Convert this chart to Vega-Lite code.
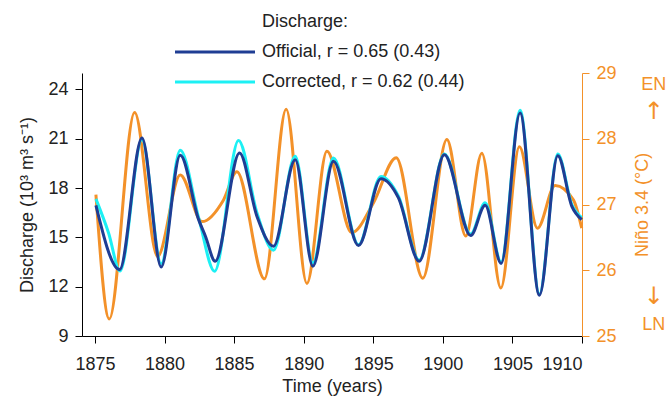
{
  "$schema": "https://vega.github.io/schema/vega-lite/v6.json",
  "width": 500,
  "height": 263,
  "autosize": {"type": "none"},
  "padding": {"left": 82, "top": 73, "right": 87, "bottom": 61},
  "background": "white",
  "config": {
    "view": {"stroke": null},
    "font": "Liberation Sans",
    "axis": {
      "grid": false,
      "labelFont": "Liberation Sans",
      "titleFont": "Liberation Sans",
      "labelFontSize": 18,
      "titleFontSize": 18,
      "titleFontWeight": "normal",
      "labelColor": "#222222",
      "titleColor": "#222222",
      "domainColor": "#000000",
      "tickColor": "#000000",
      "tickSize": 7,
      "labelPadding": 7
    },
    "legend": {
      "labelFont": "Liberation Sans",
      "labelFontSize": 18,
      "labelColor": "#222222",
      "labelLimit": 0
    }
  },
  "title": {
    "text": "Discharge:",
    "anchor": "start",
    "frame": "group",
    "dx": 180,
    "offset": 12,
    "fontSize": 18,
    "fontWeight": "normal",
    "font": "Liberation Sans",
    "color": "#222222"
  },
  "datasets": {
    "nino": [
      {"year": 1875.07, "nino": 27.15},
      {"year": 1876.03, "nino": 25.26},
      {"year": 1877.85, "nino": 28.40},
      {"year": 1879.5, "nino": 26.21},
      {"year": 1881.13, "nino": 27.45},
      {"year": 1882.7, "nino": 26.74},
      {"year": 1884.24, "nino": 27.07},
      {"year": 1885.2, "nino": 27.50},
      {"year": 1887.18, "nino": 25.87},
      {"year": 1888.74, "nino": 28.45},
      {"year": 1890.23, "nino": 25.80},
      {"year": 1891.67, "nino": 27.81},
      {"year": 1893.46, "nino": 26.57},
      {"year": 1895.0, "nino": 27.02},
      {"year": 1896.65, "nino": 27.71},
      {"year": 1898.56, "nino": 25.88},
      {"year": 1900.29, "nino": 27.99},
      {"year": 1901.65, "nino": 26.52},
      {"year": 1902.8, "nino": 27.78},
      {"year": 1904.17, "nino": 25.73},
      {"year": 1905.5, "nino": 27.88},
      {"year": 1906.8, "nino": 26.64},
      {"year": 1908.07, "nino": 27.29},
      {"year": 1909.38, "nino": 27.07},
      {"year": 1909.98, "nino": 26.64}
    ],
    "labels": [
      {"label": "EN", "nino": 28.82},
      {"label": "LN", "nino": 25.17}
    ],
    "arrows": [
      {"label": "↑", "nino": 28.41},
      {"label": "↓", "nino": 25.59}
    ],
    "discharge": [
      {"series": "Official, r = 0.65 (0.43)", "year": 1875.07, "q": 16.95},
      {"series": "Official, r = 0.65 (0.43)", "year": 1876.77, "q": 13.04},
      {"series": "Official, r = 0.65 (0.43)", "year": 1878.38, "q": 21.05},
      {"series": "Official, r = 0.65 (0.43)", "year": 1879.76, "q": 13.20},
      {"series": "Official, r = 0.65 (0.43)", "year": 1881.13, "q": 19.99},
      {"series": "Official, r = 0.65 (0.43)", "year": 1882.45, "q": 16.08},
      {"series": "Official, r = 0.65 (0.43)", "year": 1882.94, "q": 15.07},
      {"series": "Official, r = 0.65 (0.43)", "year": 1883.64, "q": 13.55},
      {"series": "Official, r = 0.65 (0.43)", "year": 1885.39, "q": 20.14},
      {"series": "Official, r = 0.65 (0.43)", "year": 1886.64, "q": 16.28},
      {"series": "Official, r = 0.65 (0.43)", "year": 1887.83, "q": 14.46},
      {"series": "Official, r = 0.65 (0.43)", "year": 1889.39, "q": 19.73},
      {"series": "Official, r = 0.65 (0.43)", "year": 1890.66, "q": 13.24},
      {"series": "Official, r = 0.65 (0.43)", "year": 1892.14, "q": 19.63},
      {"series": "Official, r = 0.65 (0.43)", "year": 1893.94, "q": 14.50},
      {"series": "Official, r = 0.65 (0.43)", "year": 1895.55, "q": 18.57},
      {"series": "Official, r = 0.65 (0.43)", "year": 1896.81, "q": 17.40},
      {"series": "Official, r = 0.65 (0.43)", "year": 1898.30, "q": 13.55},
      {"series": "Official, r = 0.65 (0.43)", "year": 1900.11, "q": 20.03},
      {"series": "Official, r = 0.65 (0.43)", "year": 1902.00, "q": 15.11},
      {"series": "Official, r = 0.65 (0.43)", "year": 1903.04, "q": 16.95},
      {"series": "Official, r = 0.65 (0.43)", "year": 1904.19, "q": 13.41},
      {"series": "Official, r = 0.65 (0.43)", "year": 1905.55, "q": 22.57},
      {"series": "Official, r = 0.65 (0.43)", "year": 1906.94, "q": 11.48},
      {"series": "Official, r = 0.65 (0.43)", "year": 1908.26, "q": 19.97},
      {"series": "Official, r = 0.65 (0.43)", "year": 1909.27, "q": 16.89},
      {"series": "Official, r = 0.65 (0.43)", "year": 1909.98, "q": 16.08},
      {"series": "Corrected, r = 0.62 (0.44)", "year": 1875.07, "q": 17.34},
      {"series": "Corrected, r = 0.62 (0.44)", "year": 1875.98, "q": 15.27},
      {"series": "Corrected, r = 0.62 (0.44)", "year": 1876.80, "q": 12.95},
      {"series": "Corrected, r = 0.62 (0.44)", "year": 1878.38, "q": 20.95},
      {"series": "Corrected, r = 0.62 (0.44)", "year": 1879.76, "q": 13.40},
      {"series": "Corrected, r = 0.62 (0.44)", "year": 1881.13, "q": 20.30},
      {"series": "Corrected, r = 0.62 (0.44)", "year": 1882.45, "q": 16.20},
      {"series": "Corrected, r = 0.62 (0.44)", "year": 1883.60, "q": 12.94},
      {"series": "Corrected, r = 0.62 (0.44)", "year": 1885.32, "q": 20.90},
      {"series": "Corrected, r = 0.62 (0.44)", "year": 1886.64, "q": 16.50},
      {"series": "Corrected, r = 0.62 (0.44)", "year": 1887.83, "q": 14.22},
      {"series": "Corrected, r = 0.62 (0.44)", "year": 1889.39, "q": 19.93},
      {"series": "Corrected, r = 0.62 (0.44)", "year": 1890.66, "q": 13.45},
      {"series": "Corrected, r = 0.62 (0.44)", "year": 1892.14, "q": 19.83},
      {"series": "Corrected, r = 0.62 (0.44)", "year": 1893.94, "q": 14.55},
      {"series": "Corrected, r = 0.62 (0.44)", "year": 1895.55, "q": 18.71},
      {"series": "Corrected, r = 0.62 (0.44)", "year": 1896.81, "q": 17.50},
      {"series": "Corrected, r = 0.62 (0.44)", "year": 1898.30, "q": 13.62},
      {"series": "Corrected, r = 0.62 (0.44)", "year": 1900.11, "q": 20.07},
      {"series": "Corrected, r = 0.62 (0.44)", "year": 1902.00, "q": 15.20},
      {"series": "Corrected, r = 0.62 (0.44)", "year": 1903.04, "q": 17.10},
      {"series": "Corrected, r = 0.62 (0.44)", "year": 1904.19, "q": 13.50},
      {"series": "Corrected, r = 0.62 (0.44)", "year": 1905.55, "q": 22.73},
      {"series": "Corrected, r = 0.62 (0.44)", "year": 1906.94, "q": 11.55},
      {"series": "Corrected, r = 0.62 (0.44)", "year": 1908.26, "q": 20.07},
      {"series": "Corrected, r = 0.62 (0.44)", "year": 1909.27, "q": 17.00},
      {"series": "Corrected, r = 0.62 (0.44)", "year": 1909.98, "q": 16.20}
    ]
  },
  "layer": [
    {
      "data": {"name": "nino"},
      "mark": {"type": "line", "interpolate": "monotone", "color": "#f39129", "strokeWidth": 3},
      "encoding": {
        "x": {
          "field": "year",
          "type": "quantitative",
          "scale": {"domain": [1874.07, 1910], "nice": false, "zero": false},
          "axis": {
            "values": [1875, 1880, 1885, 1890, 1895, 1900, 1905, 1910],
            "format": "d",
            "title": "Time (years)",
            "labelPadding": 12,
            "titlePadding": 4
          }
        },
        "y": {
          "field": "nino",
          "type": "quantitative",
          "scale": {"domain": [25, 29], "nice": false, "zero": false},
          "axis": {
            "orient": "right",
            "values": [25, 26, 27, 28, 29],
            "format": "d",
            "title": "Niño 3.4 (°C)",
            "titleAngle": 270,
            "titleBaseline": "top",
            "titlePadding": 17,
            "domainColor": "#f39129",
            "tickColor": "#f39129",
            "labelColor": "#f39129",
            "titleColor": "#f39129"
          }
        }
      }
    },
    {
      "data": {"name": "labels"},
      "mark": {"type": "text", "fontSize": 18, "color": "#f39129", "font": "Liberation Sans", "baseline": "middle", "align": "center", "clip": false},
      "encoding": {
        "x": {"datum": 1915.16, "type": "quantitative"},
        "y": {
          "field": "nino",
          "type": "quantitative",
          "scale": {"domain": [25, 29], "nice": false, "zero": false},
          "axis": null
        },
        "text": {"field": "label", "type": "nominal"}
      }
    },
    {
      "data": {"name": "arrows"},
      "mark": {"type": "text", "fontSize": 24, "color": "#f39129", "font": "DejaVu Sans", "baseline": "middle", "align": "center", "clip": false},
      "encoding": {
        "x": {"datum": 1915.16, "type": "quantitative"},
        "y": {
          "field": "nino",
          "type": "quantitative",
          "scale": {"domain": [25, 29], "nice": false, "zero": false},
          "axis": null
        },
        "text": {"field": "label", "type": "nominal"}
      }
    },
    {
      "data": {"name": "discharge"},
      "encoding": {
        "x": {"field": "year", "type": "quantitative"},
        "y": {
          "field": "q",
          "type": "quantitative",
          "scale": {"domain": [9, 25], "nice": false, "zero": false},
          "axis": {
            "orient": "left",
            "values": [9, 12, 15, 18, 21, 24],
            "title": "Discharge (10³ m³ s⁻¹)",
            "titlePadding": 11
          }
        },
        "color": {
          "field": "series",
          "type": "nominal",
          "scale": {
            "domain": ["Official, r = 0.65 (0.43)", "Corrected, r = 0.62 (0.44)"],
            "range": ["#1f3d94", "#1cf0f4"]
          },
          "legend": {
            "title": null,
            "orient": "none",
            "legendX": 124,
            "legendY": -30,
            "symbolType": "M-8,0H8",
            "symbolSize": 100,
            "symbolStrokeWidth": 3,
            "labelOffset": 38,
            "rowPadding": 12
          }
        }
      },
      "layer": [
        {
          "transform": [{"filter": "datum.series == 'Corrected, r = 0.62 (0.44)'"}],
          "mark": {"type": "line", "interpolate": "monotone", "strokeWidth": 3}
        },
        {
          "transform": [{"filter": "datum.series == 'Official, r = 0.65 (0.43)'"}],
          "mark": {"type": "line", "interpolate": "monotone", "strokeWidth": 3}
        }
      ]
    }
  ],
  "resolve": {"scale": {"y": "independent"}, "axis": {"y": "independent"}}
}
